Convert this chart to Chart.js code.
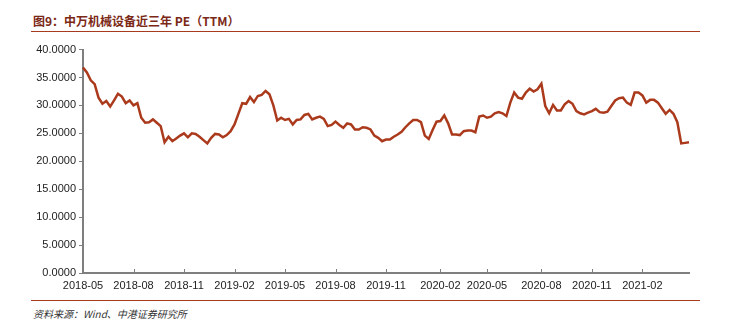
<!DOCTYPE html>
<html>
<head>
<meta charset="utf-8">
<script src="https://cdn.jsdelivr.net/npm/chart.js@4"></script>
<style>
	body { margin: 0; background: #fff; width: 739px; height: 325px; position: relative; overflow: hidden; }
	#title { position: absolute; left: 33px; top: 12px; font: bold 12px "Noto Sans CJK SC", sans-serif; color: #7b2816; white-space: nowrap; }
	.rule { position: absolute; left: 31px; width: 669px; height: 0; border-top: 1.5px solid #a83a1e; }
	#source { position: absolute; left: 33px; top: 306px; font: italic 10px "Noto Sans CJK SC", sans-serif; color: #333; white-space: nowrap; }
	#box { position: absolute; left: 0; top: 40px; width: 739px; height: 250px; }
</style>
</head>
<body>
<div id="title">图9：中万机械设备近三年 PE（TTM）</div>
<div class="rule" style="top:31px"></div>
<div id="box"><canvas id="chart"></canvas></div>
<div class="rule" style="top:300px"></div>
<div id="source">资料来源：Wind、中港证券研究所</div>
<script>
// weekly PE (TTM), first week of 2018-05 to end of 2021-04
const startDate = '2018-05-04'
const peValues = [
	36.8, 35.9, 34.5, 33.8, 31.4, 30.3, 30.8, 29.8, 30.9, 32.1,
	31.6, 30.4, 30.9, 30.0, 30.4, 27.8, 26.9, 27.0, 27.5, 26.9,
	26.3, 23.4, 24.4, 23.6, 24.1, 24.6, 25.0, 24.3, 25.0, 24.9,
	24.4, 23.8, 23.2, 24.2, 24.9, 24.8, 24.3, 24.7, 25.4, 26.6,
	28.5, 30.4, 30.3, 31.5, 30.6, 31.7, 31.9, 32.6, 32.0, 30.0,
	27.3, 27.8, 27.4, 27.6, 26.6, 27.4, 27.5, 28.3, 28.5, 27.5,
	27.8, 28.0, 27.6, 26.3, 26.5, 27.1, 26.5, 26.0, 26.8, 26.6,
	25.7, 25.7, 26.1, 26.0, 25.7, 24.6, 24.2, 23.6, 23.9, 23.9,
	24.4, 24.8, 25.3, 26.1, 26.8, 27.4, 27.4, 27.0, 24.6, 24.0,
	25.6, 27.1, 27.2, 28.2, 26.8, 24.8, 24.8, 24.7, 25.4, 25.5,
	25.5, 25.2, 28.0, 28.2, 27.8, 28.0, 28.6, 28.8, 28.6, 28.1,
	30.5, 32.3, 31.4, 31.2, 32.3, 33.0, 32.5, 32.9, 33.9, 29.9,
	28.6, 30.1, 29.1, 29.1, 30.2, 30.8, 30.3, 29.0, 28.6, 28.4,
	28.7, 29.0, 29.4, 28.8, 28.7, 28.9, 29.9, 30.9, 31.3, 31.4,
	30.5, 30.1, 32.3, 32.3, 31.8, 30.5, 31.0, 31.0, 30.5, 29.5,
	28.5, 29.2, 28.5, 27.0, 23.2, 23.3, 23.4
]
const tickLabels = ['2018-05', '2018-08', '2018-11', '2019-02', '2019-05', '2019-08',
	'2019-11', '2020-02', '2020-05', '2020-08', '2020-11', '2021-02']

const dates = []
const d0 = new Date(startDate + 'T00:00:00Z')
for (let i = 0; i < peValues.length; i++) {
	const d = new Date(d0.getTime() + i * 7 * 86400000)
	dates.push(d.toISOString().slice(0, 10))
}

// first week of each quarter month gets a tick
function isTickIndex(i) {
	const m = dates[i].slice(0, 7)
	return tickLabels.includes(m) && (i == 0 || dates[i - 1].slice(0, 7) != m)
}

// short tick marks pointing up from the x axis
const innerTicks = {
	id: 'innerTicks',
	afterDraw(chart) {
		const x = chart.scales.x
		const ctx = chart.ctx
		const y = chart.chartArea.bottom
		ctx.save()
		ctx.strokeStyle = '#7f7f7f'
		ctx.lineWidth = 1
		for (let i = 0; i < x.ticks.length; i++) {
			const px = Math.round(x.getPixelForTick(i)) + 0.5
			ctx.beginPath()
			ctx.moveTo(px, y)
			ctx.lineTo(px, y - 4)
			ctx.stroke()
		}
		ctx.restore()
	}
}

new Chart(document.getElementById('chart'), {
	type: 'line',
	data: {
		labels: dates,
		datasets: [{
			label: 'PE',
			data: peValues,
			borderColor: '#ab3a1c',
			borderWidth: 2.5,
			pointRadius: 0,
			tension: 0,
		}],
	},
	options: {
		animation: false,
		responsive: true,
		maintainAspectRatio: false,
		layout: { padding: { top: 8, right: 50, left: 0, bottom: 0 } },
		plugins: {
			legend: { display: false },
			tooltip: { enabled: false },
		},
		scales: {
			x: {
				afterBuildTicks: (scale) => {
					scale.ticks = scale.ticks.filter(t => isTickIndex(t.value))
				},
				afterFit: (scale) => { scale.height = 17 },
				border: { color: '#7f7f7f', width: 2 },
				grid: { drawOnChartArea: false, drawTicks: false },
				ticks: {
					autoSkip: false,
					maxRotation: 0,
					padding: 6,
					color: '#222',
					font: { family: 'Liberation Sans', size: 11 },
					callback: function(value) { return this.getLabelForValue(value).slice(0, 7) },
				},
			},
			y: {
				min: 0,
				max: 40,
				afterFit: (scale) => { scale.width = 83 },
				border: { color: '#7f7f7f', width: 2 },
				grid: { drawOnChartArea: false, tickLength: 4, color: '#7f7f7f' },
				ticks: {
					stepSize: 5,
					padding: 3,
					color: '#222',
					font: { family: 'Liberation Sans', size: 11 },
					callback: (v) => v.toFixed(4),
				},
			},
		},
	},
	plugins: [innerTicks],
})
</script>
</body>
</html>
